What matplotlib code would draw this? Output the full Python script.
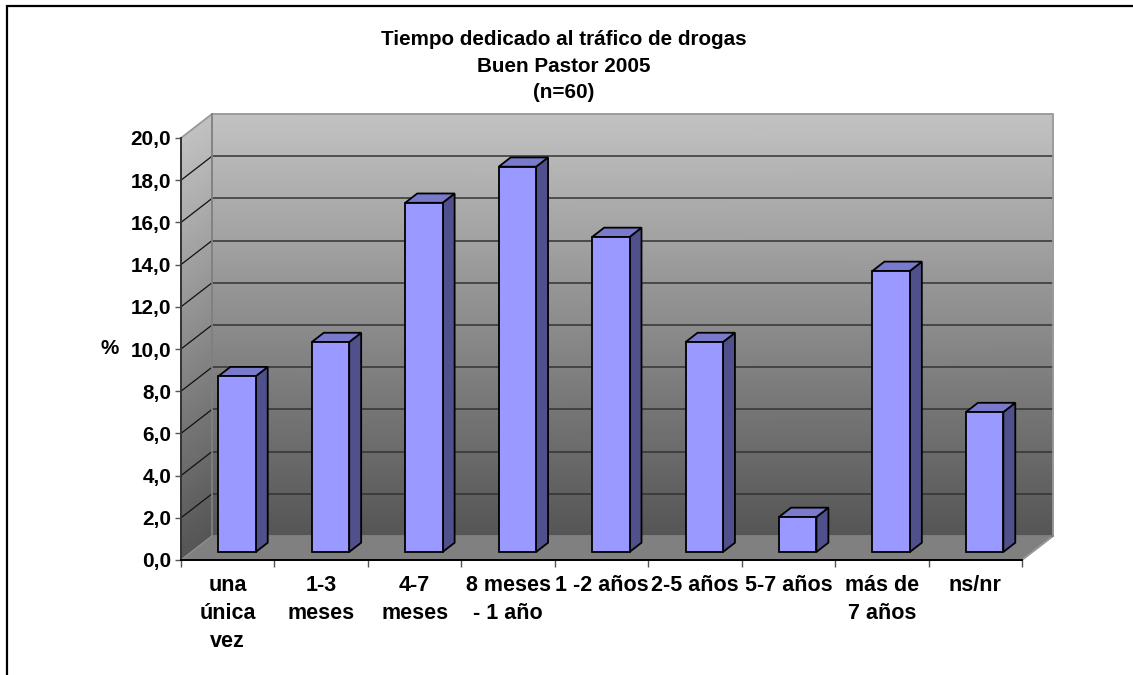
import matplotlib
matplotlib.use("Agg")
import matplotlib.pyplot as plt
import numpy as np
from matplotlib.colors import LinearSegmentedColormap
from matplotlib.patches import Polygon, Rectangle

plt.rcParams['font.family'] = ['Liberation Sans', 'DejaVu Sans']
plt.rcParams['font.weight'] = 'bold'

title = "Tiempo dedicado al tráfico de drogas\nBuen Pastor 2005\n(n=60)"
categories = ["una\núnica\nvez", "1-3\nmeses", "4-7\nmeses", "8 meses\n- 1 año", "1 -2 años",
              "2-5 años", "5-7 años", "más de\n7 años", "ns/nr"]
values = [8.33, 9.95, 16.55, 18.26, 14.93, 9.95, 1.66, 13.32, 6.63]
y_ticks = [0, 2, 4, 6, 8, 10, 12, 14, 16, 18, 20]
y_labels = ["0,0", "2,0", "4,0", "6,0", "8,0", "10,0", "12,0", "14,0", "16,0", "18,0", "20,0"]

# 3d look, all in data units of the front plane
depth_x = 0.332
depth_y = 1.137
bar_width = 0.40
bar_shift = 0.6
bar_lift = 0.38
bar_dx = 0.128
bar_dy = 0.44

W, H = 1133, 675
fig = plt.figure(figsize=(W / 100, H / 100), dpi=100)
ax = fig.add_axes([181 / W, (H - 560) / H, 841 / W, 422 / H])
ax.set_xlim(0, 9)
ax.set_ylim(0, 20)
ax.patch.set_visible(False)

# figure frame, open on the right and the bottom
fig.add_artist(Rectangle((7 / W, -0.1), 1.2, 1.1 - 6 / H, transform=fig.transFigure,
                         fill=False, edgecolor='black', linewidth=1.6))

wall_cmap = LinearSegmentedColormap.from_list("wall", ["#555555", "#c2c2c2"])
levels = np.linspace(0, 20, 21)

# back wall
wall_x = np.array([[depth_x, 9 + depth_x]] * len(levels))
wall_y = np.column_stack([levels + depth_y, levels + depth_y])
wall_c = np.column_stack([levels, levels])
ax.pcolormesh(wall_x, wall_y, wall_c, cmap=wall_cmap, shading='gouraud', vmin=0, vmax=20,
              clip_on=False, zorder=1)

# side wall
side_x = np.array([[0, depth_x]] * len(levels))
side_y = np.column_stack([levels, levels + depth_y])
ax.pcolormesh(side_x, side_y, wall_c, cmap=wall_cmap, shading='gouraud', vmin=0, vmax=20,
              clip_on=False, zorder=1)

# floor
ax.add_patch(Polygon([(0, 0), (9, 0), (9 + depth_x, depth_y), (depth_x, depth_y)], closed=True,
                     facecolor='#808080', edgecolor='#808080', linewidth=1, clip_on=False, zorder=1.5))

# grid lines
for v in y_ticks[1:-1]:
    ax.plot([depth_x, 9 + depth_x], [v + depth_y, v + depth_y], color='#333333', lw=1.1,
            clip_on=False, zorder=2)
    ax.plot([0, depth_x], [v, v + depth_y], color='#111111', lw=0.9, clip_on=False, zorder=2)

# wall outline
ax.plot([0, depth_x, 9 + depth_x, 9 + depth_x, 9], [20, 20 + depth_y, 20 + depth_y, depth_y, 0],
        color='#999999', lw=1.3, clip_on=False, zorder=2)
ax.plot([depth_x, depth_x, 9 + depth_x], [20 + depth_y, depth_y, depth_y], color='#7f7f7f', lw=1.3,
        clip_on=False, zorder=2)
ax.plot([0, depth_x], [0, depth_y], color='#8c8c8c', lw=1, clip_on=False, zorder=2)

# bars
x = np.arange(len(values)) + bar_shift
ax.bar(x, values, bar_width, bottom=bar_lift, color='#9999ff', edgecolor='black', linewidth=1.3,
       clip_on=False, zorder=4)
for xi, v in zip(x, values):
    left = xi - bar_width / 2
    right = xi + bar_width / 2
    top = v + bar_lift
    ax.add_patch(Polygon([(right, bar_lift), (right + bar_dx, bar_lift + bar_dy),
                          (right + bar_dx, top + bar_dy), (right, top)], closed=True,
                         facecolor='#50508c', edgecolor='black', linewidth=1.3, clip_on=False, zorder=3))
    ax.add_patch(Polygon([(left, top), (right, top), (right + bar_dx, top + bar_dy),
                          (left + bar_dx, top + bar_dy)], closed=True,
                         facecolor='#7a7acc', edgecolor='black', linewidth=1.3, clip_on=False, zorder=3))

# axes
for side in ['top', 'right']:
    ax.spines[side].set_visible(False)
ax.spines['left'].set_color('#333333')
ax.spines['bottom'].set_color('black')
ax.spines['left'].set_linewidth(1.4)
ax.spines['bottom'].set_linewidth(1.4)
ax.spines['left'].set_zorder(5)
ax.spines['bottom'].set_zorder(5)

ax.set_yticks(y_ticks)
ax.set_yticklabels(y_labels, fontsize=14.9, fontweight='bold')
ax.tick_params(axis='y', length=4.5, width=1, color='#555555', pad=2.5)
ax.set_xticks(np.arange(0, 10))
ax.set_xticklabels([])
ax.tick_params(axis='x', which='major', length=5, width=1, color='#555555')
ax.set_xticks(np.arange(len(categories)) + 0.5, minor=True)
ax.set_xticklabels(categories, minor=True, fontsize=15.5, fontweight='bold', linespacing=1.42)
ax.tick_params(axis='x', which='minor', length=0, pad=11)

ax.set_ylabel("%", rotation=0, fontsize=14.9, fontweight='bold', labelpad=10)
ax.yaxis.set_label_coords((110 - 181) / 841, (560 - 349) / 422, transform=ax.transAxes)
ax.yaxis.label.set_verticalalignment('center')
ax.yaxis.label.set_horizontalalignment('center')

fig.text(564 / W, 1 - 66 / H, title, ha='center', va='center', fontsize=14.9, fontweight='bold',
         linespacing=1.525)

fig.savefig("out.png", dpi=100)
